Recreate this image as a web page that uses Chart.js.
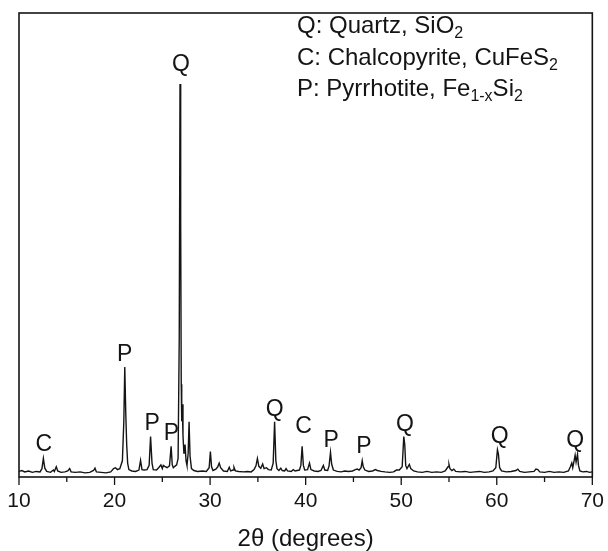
<!DOCTYPE html>
<html>
<head>
<meta charset="utf-8">
<script src="https://cdn.jsdelivr.net/npm/chart.js@4"></script>
<style>
  html, body { margin: 0; padding: 0; background: #fff; }
  #wrap { width: 608px; height: 551px; }
</style>
</head>
<body>
<div id="wrap"><canvas id="xrdChart" width="608" height="551"></canvas></div>
<script>
// XRD pattern (2theta in degrees, intensity in % of frame height)
const twoTheta = [
  10.0, 10.3, 10.6, 11.0, 11.4, 11.8, 12.2, 12.4, 12.55, 12.7, 12.9, 13.3, 13.6, 13.7, 13.9, 14.05,
  14.4, 14.8, 15.1, 15.3, 15.45, 15.9, 16.4, 16.9, 17.4, 17.8, 17.95, 18.1, 18.6, 19.1, 19.6, 19.9,
  20.1, 20.3, 20.55, 20.82, 20.97, 21.07, 21.17, 21.27, 21.37, 21.5, 21.8, 22.2, 22.55, 22.72, 22.87, 23.1,
  23.4, 23.62, 23.77, 23.92, 24.05, 24.4, 24.7, 24.85, 25.0, 25.1, 25.25, 25.5, 25.75, 25.92, 26.04, 26.15,
  26.3, 26.5, 26.65, 26.77, 26.85, 26.92, 26.98, 27.03, 27.08, 27.16, 27.26, 27.38, 27.48, 27.58, 27.7, 27.8,
  27.9, 28.05, 28.3, 28.7, 29.2, 29.6, 29.9, 30.03, 30.15, 30.3, 30.6, 30.8, 30.95, 31.1, 31.4, 31.8,
  32.0, 32.15, 32.4, 32.5, 32.65, 33.0, 33.5, 33.9, 34.3, 34.6, 34.8, 34.95, 35.1, 35.3, 35.5, 35.65,
  35.9, 36.1, 36.4, 36.6, 36.75, 36.88, 37.0, 37.2, 37.4, 37.55, 37.8, 37.95, 38.1, 38.5, 38.7, 38.9,
  39.1, 39.35, 39.5, 39.63, 39.76, 39.9, 40.2, 40.4, 40.55, 40.9, 41.3, 41.6, 41.85, 42.0, 42.3, 42.45,
  42.6, 42.72, 42.9, 43.3, 43.7, 44.1, 44.5, 44.9, 45.2, 45.4, 45.6, 45.8, 45.92, 46.03, 46.2, 46.6,
  47.0, 47.3, 47.5, 47.9, 48.3, 48.8, 49.2, 49.5, 49.8, 50.1, 50.27, 50.37, 50.47, 50.6, 50.85, 51.0,
  51.3, 51.7, 52.2, 52.7, 53.2, 53.7, 54.2, 54.6, 54.9, 55.0, 55.1, 55.3, 55.5, 55.7, 56.2, 56.7,
  57.2, 57.7, 58.2, 58.7, 59.2, 59.6, 59.9, 60.07, 60.17, 60.3, 60.5, 61.0, 61.5, 62.0, 62.2, 62.4,
  62.9, 63.4, 63.9, 64.1, 64.3, 64.5, 65.0, 65.5, 66.0, 66.5, 67.0, 67.5, 67.7, 67.85, 67.95, 68.1,
  68.2, 68.3, 68.45, 68.55, 68.7, 69.0, 69.4, 69.7, 70.0
];
const intensity = [
  1.2, 1.4, 1.1, 1.3, 1.0, 1.2, 1.1, 1.8, 4.0, 1.9, 1.2, 1.0, 1.5, 1.2, 2.2, 1.3,
  1.0, 1.1, 1.3, 1.8, 1.1, 1.0, 1.1, 0.9, 1.0, 1.4, 1.9, 1.1, 1.0, 0.9, 1.1, 1.8,
  2.0, 1.6, 1.8, 3.5, 12.0, 23.7, 14.0, 7.0, 3.0, 1.6, 1.3, 1.2, 1.5, 3.6, 1.6, 1.5,
  1.6, 2.5, 8.7, 3.0, 1.6, 1.5, 2.2, 2.6, 1.8, 2.5, 2.3, 2.0, 2.4, 6.6, 2.6, 2.0,
  2.3, 2.6, 4.0, 30.0, 84.7, 55.0, 20.0, 12.0, 15.7, 9.0, 5.0, 7.0, 3.5, 2.5, 5.0, 11.9,
  4.5, 1.8, 1.4, 1.2, 1.3, 1.2, 2.0, 5.5, 2.2, 1.4, 1.7, 2.2, 3.0, 2.0, 1.3, 1.2,
  2.1, 1.3, 1.5, 2.1, 1.3, 1.2, 1.1, 1.2, 1.1, 1.6, 2.4, 4.0, 2.3, 1.9, 2.8, 1.8,
  2.0, 1.6, 1.5, 3.0, 11.9, 3.5, 1.8, 1.4, 1.9, 1.4, 1.3, 1.8, 1.3, 1.2, 1.6, 1.3,
  1.4, 1.5, 2.5, 6.6, 2.5, 1.5, 1.6, 3.0, 1.6, 1.3, 1.2, 1.4, 2.5, 1.5, 1.4, 2.4,
  5.3, 2.8, 1.5, 1.2, 1.1, 1.3, 1.2, 1.3, 1.6, 1.7, 1.5, 2.0, 3.5, 2.2, 1.5, 1.2,
  1.3, 1.6, 1.4, 1.2, 1.1, 1.0, 1.1, 1.5, 1.5, 2.2, 8.7, 7.0, 2.5, 1.8, 2.7, 1.8,
  1.3, 1.1, 1.0, 1.2, 1.0, 1.1, 1.0, 1.3, 2.2, 2.7, 1.8, 1.4, 1.7, 1.2, 1.1, 1.2,
  1.0, 1.1, 1.2, 1.0, 1.1, 1.3, 2.0, 5.9, 5.0, 2.0, 1.3, 1.1, 1.2, 1.4, 1.7, 1.2,
  1.0, 1.1, 1.2, 1.7, 1.6, 1.1, 1.0, 1.2, 1.0, 1.1, 1.0, 1.3, 2.2, 3.0, 2.0, 3.6,
  4.7, 3.2, 4.9, 2.5, 1.3, 1.1, 1.2, 1.0, 1.1
];

// phase labels above the peaks (label centre in data coordinates)
const peakLabels = ['C', 'P', 'P', 'P', 'Q', 'Q', 'C', 'P', 'P', 'Q', 'Q', 'Q'];
const peakLabelX = [12.6, 21.05, 23.94, 25.95, 26.96, 36.76, 39.77, 42.67, 46.1, 50.4, 60.3, 68.2];
const peakLabelY = [7.0, 26.3, 11.5, 9.3, 88.8, 14.6, 10.9, 7.8, 6.5, 11.2, 8.75, 7.8];

const xTicks = [10, 20, 30, 40, 50, 60, 70];

// key lines: [text, isSubscript] pieces
const keyLines = [
  [['Q: Quartz, SiO', false], ['2', true]],
  [['C: Chalcopyrite, CuFeS', false], ['2', true]],
  [['P: Pyrrhotite, Fe', false], ['1-x', true], ['Si', false], ['2', true]]
];

const FONT = "'Liberation Sans', Arial, sans-serif";
const INK = '#141414';

const xrdDecor = {
  id: 'xrdDecor',
  afterDraw(chart) {
    const ctx = chart.ctx;
    const area = chart.chartArea;
    const xs = chart.scales.x;
    const ys = chart.scales.y;
    ctx.save();

    // frame
    ctx.strokeStyle = INK;
    ctx.lineWidth = 1.6;
    ctx.strokeRect(area.left, area.top, area.right - area.left, area.bottom - area.top);

    // outward ticks, long at labels, short in between
    ctx.lineWidth = 1.3;
    for (let v = 10; v <= 70; v += 5) {
      const px = xs.getPixelForValue(v);
      const len = (v % 10 === 0) ? 8 : 5;
      ctx.beginPath();
      ctx.moveTo(px, area.bottom);
      ctx.lineTo(px, area.bottom + len);
      ctx.stroke();
    }

    // peak letters
    ctx.fillStyle = INK;
    ctx.font = '23px ' + FONT;
    ctx.textAlign = 'center';
    ctx.textBaseline = 'middle';
    peakLabels.forEach((t, i) => {
      ctx.fillText(t, xs.getPixelForValue(peakLabelX[i]), ys.getPixelForValue(peakLabelY[i]));
    });

    // key in the top right
    ctx.textAlign = 'left';
    ctx.textBaseline = 'alphabetic';
    const baseSize = 24, subSize = 16;
    let y = area.top + 20;
    keyLines.forEach(line => {
      let x = area.left + 278;
      line.forEach(([txt, sub]) => {
        ctx.font = (sub ? subSize : baseSize) + 'px ' + FONT;
        ctx.fillText(txt, x, sub ? y + 5 : y);
        x += ctx.measureText(txt).width;
      });
      y += 31.5;
    });

    ctx.restore();
  }
};

new Chart(document.getElementById('xrdChart'), {
  type: 'line',
  data: {
    datasets: [{
      data: twoTheta.map((t, i) => ({ x: t, y: intensity[i] })),
      borderColor: INK,
      borderWidth: 1.4,
      pointRadius: 0,
      tension: 0,
      fill: false
    }]
  },
  options: {
    responsive: false,
    animation: false,
    devicePixelRatio: 1,
    layout: { padding: { left: 19, right: 12, top: 13, bottom: 0 } },
    plugins: { legend: { display: false }, tooltip: { enabled: false } },
    scales: {
      x: {
        type: 'linear',
        min: 10,
        max: 70,
        afterBuildTicks(scale) { scale.ticks = xTicks.map(v => ({ value: v })); },
        afterFit(scale) { scale.height = 74; },
        ticks: {
          color: INK,
          font: { family: FONT, size: 21 },
          padding: 4,
          maxRotation: 0,
          autoSkip: false
        },
        grid: { display: true, drawOnChartArea: false, drawTicks: true, tickLength: 8, color: 'rgba(0,0,0,0)' },
        border: { display: false },
        title: {
          display: true,
          text: '2θ (degrees)',
          color: INK,
          font: { family: FONT, size: 24, lineHeight: 1 },
          padding: { top: 0, bottom: 0 }
        }
      },
      y: {
        display: false,
        min: 0,
        max: 100
      }
    }
  },
  plugins: [xrdDecor]
});
</script>
</body>
</html>
